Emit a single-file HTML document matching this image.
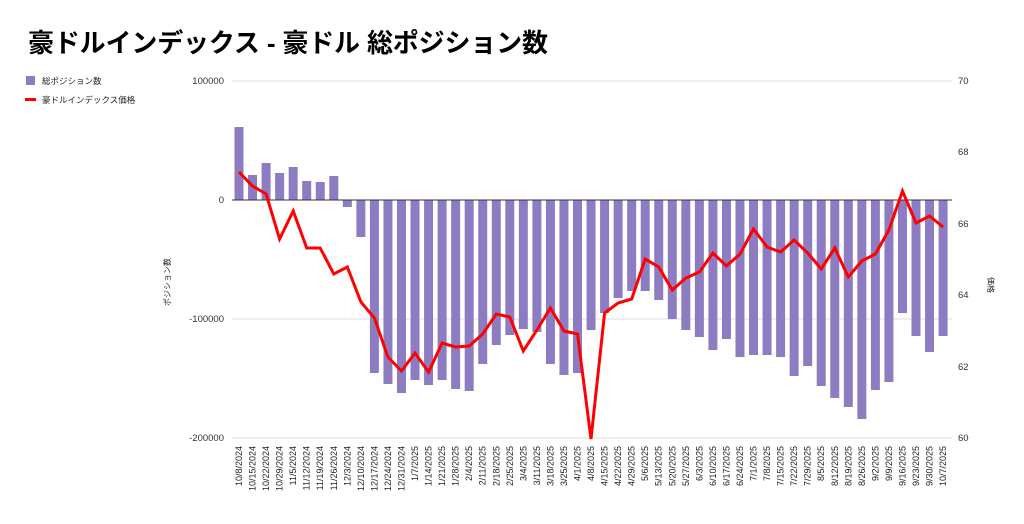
<!DOCTYPE html>
<html><head><meta charset="utf-8">
<style>
body{margin:0;background:#fff;width:1024px;height:519px;overflow:hidden;font-family:"Liberation Sans","Noto Sans CJK JP",sans-serif;}
</style></head>
<body>
<svg id="c" width="1024" height="519" xmlns="http://www.w3.org/2000/svg" font-family="Liberation Sans, Noto Sans CJK JP, sans-serif">
<text x="28" y="52" font-size="26" font-weight="bold" fill="#000" textLength="520">豪ドルインデックス - 豪ドル 総ポジション数</text>
<rect x="26" y="76" width="9" height="9" fill="#8e7cc3"/>
<text x="42" y="84" font-size="8.5" fill="#222">総ポジション数</text>
<rect x="25" y="98" width="11" height="3" fill="#f00"/>
<text x="42" y="103" font-size="8.5" fill="#222">豪ドルインデックス価格</text>
<g stroke="#ddd" stroke-width="1">
<line x1="232" y1="81" x2="952" y2="81"/>
<line x1="232" y1="319" x2="952" y2="319"/>
<line x1="232" y1="438" x2="952" y2="438"/>
</g>
<g font-size="9.5" fill="#333" text-anchor="end">
<text x="224" y="84">100000</text>
<text x="224" y="203">0</text>
<text x="224" y="322">-100000</text>
<text x="224" y="441">-200000</text>
</g>
<g font-size="9.5" fill="#333">
<text x="958" y="84">70</text>
<text x="958" y="155">68</text>
<text x="958" y="227">66</text>
<text x="958" y="298">64</text>
<text x="958" y="370">62</text>
<text x="958" y="441">60</text>
</g>
<text transform="translate(170,282) rotate(-90)" font-size="8" fill="#222" text-anchor="middle">ポジション数</text>
<text transform="translate(988,285) rotate(90)" font-size="8" fill="#222" text-anchor="middle">価格</text>
<g id="bars" fill="#8e7cc3"></g>
<line x1="232" y1="200" x2="952" y2="200" stroke="#333" stroke-width="1"/>
<polyline id="ln" fill="none" stroke="#f00" stroke-width="3" stroke-linejoin="miter"/>
<g id="lbl" font-size="9" fill="#222" text-anchor="end"></g>
</svg>
<script>
var bars=[127,175,163,173,167,181,182,176,207,237,373,384,393,380,385,380,389,391,364,345,335,329,332,364,375,373,330,313,298,291,291,300,319,330,337,350,339,357,355,355,357,376,366,386,398,407,419,390,382,313,336,352,336];
var line=[172,186,194,239,211,248,248,274,267,302,318,357,371,353,372,343,347,346,334,314,317,351,330,308,331,334,439,313,303,299,259,267,290,278,272,253,266,254,229,247,252,240,253,269,248,277,261,254,230,191,223,216,227];
var ns="http://www.w3.org/2000/svg";
var bg=document.getElementById("bars"),lg=document.getElementById("lbl");
var pts=[];
var d=new Date(2024,9,8);
for(var i=0;i<53;i++){
 var x=239+i*13.54;
 var y=bars[i];
 var r=document.createElementNS(ns,"rect");
 r.setAttribute("x",x-4.5);r.setAttribute("width",9);
 r.setAttribute("y",Math.min(y,200));r.setAttribute("height",Math.abs(y-200));
 bg.appendChild(r);
 pts.push(x.toFixed(1)+","+line[i]);
 var t=document.createElementNS(ns,"text");
 t.setAttribute("transform","translate("+(x+3)+",446) rotate(-90)");
 t.textContent=(d.getMonth()+1)+"/"+d.getDate()+"/"+d.getFullYear();
 lg.appendChild(t);
 d.setDate(d.getDate()+7);
}
document.getElementById("ln").setAttribute("points",pts.join(" "));
</script>
</body></html>
